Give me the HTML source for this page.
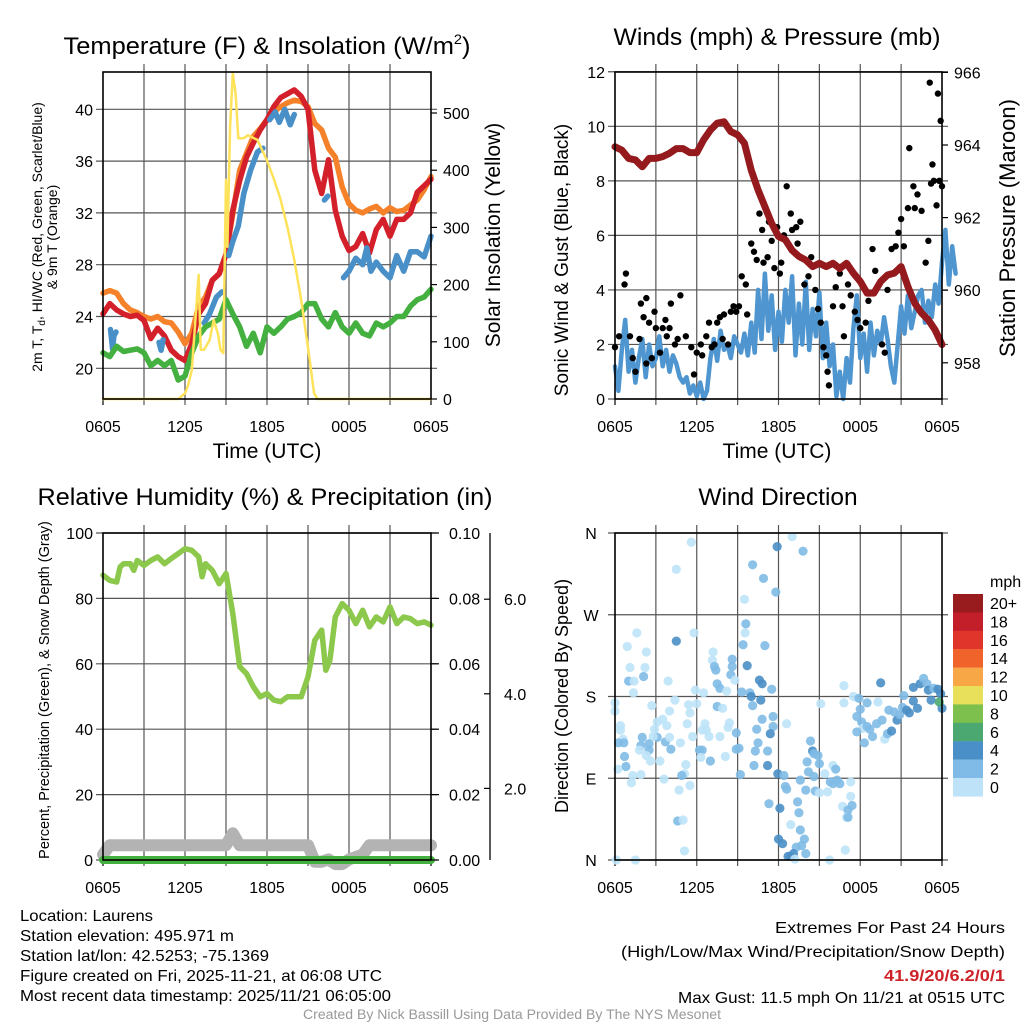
<!DOCTYPE html>
<html><head><meta charset="utf-8"><style>
html,body{margin:0;padding:0;background:#fff;}
svg{display:block;font-family:"Liberation Sans",Arial,sans-serif;}
</style></head><body>
<svg id="fig" width="1024" height="1024" viewBox="0 0 1024 1024" xmlns="http://www.w3.org/2000/svg">
<rect x="0" y="0" width="1024" height="1024" fill="#fff"/>
<!-- titles -->
<text x="267" y="54" font-size="24.5" text-anchor="middle" textLength="407" lengthAdjust="spacingAndGlyphs">Temperature (F) &amp; Insolation (W/m<tspan font-size="14" dy="-10">2</tspan><tspan dy="10">)</tspan></text>
<text x="777" y="45" font-size="24.5" text-anchor="middle" textLength="327" lengthAdjust="spacingAndGlyphs">Winds (mph) &amp; Pressure (mb)</text>
<text x="265" y="505" font-size="24.5" text-anchor="middle" textLength="455" lengthAdjust="spacingAndGlyphs">Relative Humidity (%) &amp; Precipitation (in)</text>
<text x="778" y="505" font-size="24.5" text-anchor="middle">Wind Direction</text>
<!-- axis titles -->
<text x="267" y="458" font-size="21" text-anchor="middle">Time (UTC)</text>
<text x="777" y="458" font-size="21" text-anchor="middle">Time (UTC)</text>
<text font-size="14" text-anchor="middle" transform="translate(42,237) rotate(-90)">2m T, T<tspan font-size="10" dy="3">d</tspan><tspan dy="-3">, HI/WC (Red, Green, Scarlet/Blue)</tspan></text>
<text font-size="14" text-anchor="middle" transform="translate(57,237) rotate(-90)">&amp; 9m T (Orange)</text>
<text font-size="21" text-anchor="middle" transform="translate(500,235) rotate(-90)">Solar Insolation (Yellow)</text>
<text font-size="19" text-anchor="middle" transform="translate(568,260) rotate(-90)">Sonic Wind &amp; Gust (Blue, Black)</text>
<text font-size="22" text-anchor="middle" transform="translate(1015,228) rotate(-90)">Station Pressure (Maroon)</text>
<text font-size="14.5" text-anchor="middle" transform="translate(49,690) rotate(-90)">Percent, Precipitation (Green), &amp; Snow Depth (Gray)</text>
<text font-size="18" text-anchor="middle" transform="translate(568,696) rotate(-90)">Direction (Colored By Speed)</text>
<!-- footer -->
<g font-size="16" lengthAdjust="spacingAndGlyphs">
<text x="20" y="921" textLength="133" lengthAdjust="spacingAndGlyphs">Location: Laurens</text>
<text x="20" y="941" textLength="214" lengthAdjust="spacingAndGlyphs">Station elevation: 495.971 m</text>
<text x="20" y="961" textLength="249" lengthAdjust="spacingAndGlyphs">Station lat/lon: 42.5253; -75.1369</text>
<text x="20" y="981" textLength="362" lengthAdjust="spacingAndGlyphs">Figure created on Fri, 2025-11-21, at 06:08 UTC</text>
<text x="20" y="1001" textLength="371" lengthAdjust="spacingAndGlyphs">Most recent data timestamp: 2025/11/21 06:05:00</text>
</g>
<g font-size="16" text-anchor="end">
<text x="1005" y="933" textLength="230" lengthAdjust="spacingAndGlyphs">Extremes For Past 24 Hours</text>
<text x="1005" y="957" textLength="384" lengthAdjust="spacingAndGlyphs">(High/Low/Max Wind/Precipitation/Snow Depth)</text>
<text x="1005" y="981" fill="#cc2228" font-weight="bold" textLength="121" lengthAdjust="spacingAndGlyphs">41.9/20/6.2/0/1</text>
<text x="1005" y="1003" textLength="327" lengthAdjust="spacingAndGlyphs">Max Gust: 11.5 mph On 11/21 at 0515 UTC</text>
</g>
<text x="512" y="1019" font-size="13.5" fill="#999" text-anchor="middle" textLength="418" lengthAdjust="spacingAndGlyphs">Created By Nick Bassill Using Data Provided By The NYS Mesonet</text>
<g id="plots"></g>
</svg>
<script>
// ---------- data ----------
const tempStepHours = 0.5;
const red2mT = [24.2,25.0,24.5,24.2,24.0,24.1,23.7,22.3,23.1,22.5,21.4,20.9,20.6,21.9,24.2,25.0,26.8,27.3,28.8,32.2,34.5,36.3,37.4,38.4,39.2,40.2,40.9,41.2,41.5,41.0,40.0,35.3,33.5,36.1,32.2,30.2,29.1,29.4,30.4,28.9,30.7,31.5,30.2,31.5,31.5,32.0,33.6,34.1,34.6];
const orange9mT = [25.8,26.0,25.8,25.0,24.5,24.3,24.0,23.8,24.0,23.6,23.5,22.8,21.9,22.7,24.8,25.5,26.8,27.3,28.8,31.9,35.3,36.6,37.9,38.5,39.2,39.8,40.2,40.5,40.7,40.6,40.2,38.9,38.4,37.0,36.3,34.0,32.7,32.2,32.0,32.3,32.5,32.0,32.4,32.1,32.2,32.6,33.0,33.8,34.8];
const greenTd = [21.2,20.9,21.7,21.3,21.4,21.5,21.2,20.2,20.6,20.2,20.6,19.1,19.4,21.2,22.5,23.2,23.5,23.8,25.3,24.2,23.2,21.7,22.7,21.2,23.2,22.7,23.2,23.8,24.0,24.3,25.0,25.0,23.8,23.2,24.3,23.2,22.7,23.5,22.7,22.5,23.5,23.2,23.5,24.0,24.0,24.8,25.3,25.5,26.1];
const blueHours = [0.55,0.7,0.8,0.95,null,4.1,4.25,4.4,null,7.4,7.8,8.3,8.7,null,9.2,9.5,9.9,10.3,10.8,11.3,11.7,null,12.2,12.6,12.9,13.3,13.7,14.0,null,16.2,16.45,null,17.6,18.0,18.5,19.0,19.3,19.6,20.0,20.5,21.0,21.5,22.0,22.5,23.0,23.5,24.0];
const blueHIWC = [23.0,21.5,22.5,22.8,null,22.0,21.4,22.2,null,23.5,24.2,25.5,25.9,null,28.7,29.8,31.0,33.5,35.3,36.7,37.0,null,39.2,39.8,39.0,40.0,38.8,39.6,null,33.0,33.3,null,27.0,27.5,28.5,28.0,29.3,27.5,28.2,27.5,27.0,28.7,27.5,29.0,29.0,28.6,30.2];
const solarHours = [0,5.5,6.0,6.2,6.5,6.9,7.0,7.15,7.4,7.8,8.1,8.4,8.6,8.8,9.0,9.1,9.3,9.5,9.7,9.9,10.3,10.6,11.3,12.0,12.5,13.0,13.5,14.0,14.5,15.0,15.45,15.7,24];
const solarValues = [0,0,10,22,50,185,217,86,86,103,138,115,86,80,383,266,476,569,534,456,456,461,453,417,385,348,300,243,173,90,10,0,0];

const windStepHours = 0.25;
const sonicWind = [1.2,0.3,1.8,2.9,1.0,1.8,0.6,1.5,2.2,0.8,2.0,1.2,1.5,2.3,1.2,1.8,1.0,1.6,1.3,0.8,0.6,0.8,0.2,0.5,0.1,0.6,0.0,0.3,1.5,2.2,1.4,2.5,1.8,2.0,1.5,2.3,2.0,1.7,2.4,1.6,2.8,1.7,4.0,2.2,4.6,2.5,3.8,1.8,3.2,2.1,4.0,2.8,4.5,1.6,3.5,2.0,4.3,1.8,3.3,2.3,3.9,1.5,2.8,1.2,2.0,0.1,1.0,0.0,1.5,0.6,2.6,3.8,1.5,2.4,1.0,2.8,1.6,2.5,2.0,3.0,2.2,1.2,0.6,2.0,3.4,2.4,3.8,2.6,3.2,3.8,4.0,2.8,3.6,3.0,4.2,3.5,5.0,6.2,4.2,5.6,4.6];
const gustHours = [0,0.3,0.7,0.8,1.1,1.3,1.5,1.8,1.9,2.1,2.3,2.3,2.5,2.7,2.9,3.0,3.3,3.5,3.7,3.8,4.0,4.1,4.4,4.6,4.8,5.2,5.6,5.8,6.0,6.3,6.4,6.7,6.9,7.1,7.3,7.5,7.7,7.9,8.0,8.3,8.5,8.7,8.9,9.1,9.3,9.6,9.7,10.0,10.2,10.4,10.6,10.8,10.9,11.2,11.3,11.5,11.7,11.9,12.1,12.2,12.4,12.6,12.9,13.0,13.3,13.4,13.6,13.9,14.2,14.4,14.7,14.9,15.1,15.3,15.5,15.6,15.7,16.0,16.2,16.5,16.7,16.8,17.1,17.3,17.6,17.8,18.0,18.4,18.6,18.9,19.1,19.6,19.8,20.0,20.3,20.6,20.8,21.0,21.2,21.5,21.6,21.9,22.0,22.2,22.5,22.8,23.0,23.1,23.2,23.3,23.4,23.6,23.7,23.8,23.9,24.0];
const gustValues = [1.9,2.3,4.2,4.6,2.3,1.5,1.0,2.2,3.5,3.0,3.7,1.3,2.8,1.5,3.2,2.6,1.7,2.6,2.9,2.3,2.6,3.5,2.0,2.2,3.8,2.3,1.9,0.9,1.7,2.0,1.6,2.3,2.8,1.9,2.0,2.8,3.0,2.2,3.1,2.0,3.2,3.4,3.2,3.4,4.5,4.2,3.1,5.7,5.4,5.1,6.8,6.2,5.0,5.2,6.5,5.8,4.8,6.3,4.6,5.0,6.0,7.8,6.8,6.2,6.3,5.7,6.5,4.2,4.5,5.2,4.0,3.3,2.8,1.9,1.6,1.0,0.5,3.4,4.1,4.6,3.4,2.3,4.2,3.8,3.2,2.9,2.6,2.8,3.6,5.5,4.7,2.0,1.7,4.0,5.5,5.6,6.1,6.6,5.6,7.0,9.2,7.8,7.0,7.5,6.9,5.0,5.8,11.6,7.9,8.6,8.0,7.1,11.2,8.0,10.2,7.8];
const pressureMb = [963.95,963.86,963.63,963.59,963.4,963.63,963.63,963.68,963.77,963.9,963.9,963.79,963.79,964.14,964.41,964.6,964.64,964.37,964.28,964.05,963.3,962.76,962.3,961.84,961.48,961.39,961.1,960.93,960.83,960.65,960.74,960.65,960.74,960.6,960.74,960.47,960.24,959.92,959.92,960.24,960.42,960.47,960.65,960.1,959.64,959.37,959.18,958.9,958.5];

const rhHours = [0,0.5,1,1.25,1.5,2,2.25,2.5,3,3.5,4,4.5,5,5.5,6,6.5,7,7.25,7.5,8,8.5,9,9.5,10,10.5,11,11.5,12,12.5,13,13.5,14,14.5,15,15.5,16,16.3,16.6,17,17.5,18,18.5,19,19.5,20,20.5,21,21.5,22,22.5,23,23.5,24];
const rhValues = [87.1,85.5,85.0,89.6,90.6,90.6,88.6,91.6,90.1,91.6,92.7,90.6,92.2,93.7,95.2,94.7,92.7,86.6,90.6,88.6,84.5,87.6,75.4,59.1,57.0,53.0,49.9,50.9,48.9,48.4,49.9,49.9,49.9,56.0,67.2,70.3,58.0,61.1,74.3,78.4,76.4,72.3,76.4,71.3,74.3,72.8,77.4,72.3,74.3,73.8,72.3,72.8,71.8];
const precipHours = [0,24];
const precipValues = [0,0];
const snowHours = [0,0.5,9,9.5,10,15,15.5,16,16.5,17,17.5,18,18.5,19,19.5,24];
const snowDepth = [0.6,0.8,0.8,1.05,0.8,0.8,0.45,0.45,0.5,0.4,0.4,0.5,0.55,0.6,0.8,0.8];

// wind direction: hour, degrees, speed (mph)
const dirHours = [13.0,11.9,13.8,5.6,4.5,10.1,10.9,11.8,9.5,9.6,9.55,9.4,11.0,4.5,5.8,1.6,0.9,2.3,1.1,2.2,2.1,1.0,1.4,1.35,3.9,7.2,7.15,7.3,7.4,8.6,8.6,8.5,8.8,9.7,10.6,10.8,11.5,7.5,7.7,8.2,5.9,6.5,9.3,9.9,10.0,10.7,10.1,0.0,0.0,2.7,4.4,5.4,6.0,5.5,4.0,7.5,7.9,8.4,8.3,7.7,6.6,6.7,6.9,6.4,5.3,5.7,3.5,3.1,3.8,2.9,3.1,2.8,0.4,0.4,0.6,0.25,0.65,2.0,1.9,2.5,2.5,1.8,2.3,2.6,0.7,0.8,0.2,1.3,1.2,1.9,3.3,3.6,3.7,4.1,4.0,4.8,5.2,5.1,4.9,5.5,4.7,4.6,5.0,5.1,1.5,0.1,6.2,6.4,7.0,6.3,8.1,8.9,9.1,9.2,8.9,10.2,10.3,10.5,11.2,11.2,10.4,10.8,11.6,11.6,11.4,12.6,11.95,12.4,12.5,12.6,11.3,12.1,12.9,13.6,13.9,13.7,13.3,13.1,12.9,12.7,13.2,14.0,12.0,12.3,13.6,14.0,14.7,15.0,15.6,13.4,13.5,14.1,14.2,14.6,14.35,14.5,14.6,14.9,15.0,15.4,16.0,16.2,16.3,16.5,16.0,15.8,17.3,17.3,16.7,17.1,17.4,17.0,17.1,16.9,15.75,16.8,16.8,17.5,17.9,18.0,18.5,17.75,18.1,18.2,18.5,18.7,19.2,18.9,18.3,17.75,19.6,19.8,20.0,20.3,20.1,20.5,20.7,20.9,21.1,21.4,21.6,21.9,22.2,21.2,21.9,22.4,22.65,22.9,23.0,23.4,23.7,23.9,24.0,23.2,23.8,19.5,15.1,19.3];
const dirDegrees = [356,345,340,350,320,325,310,295,287,260,250,237,236,241,250,250,235,229,212,212,202,197,197,184,197,229,220,213,209,221,213,204,198,214,198,194,188,194,189,186,187,184,185,184,180,176,170,173,164,170,176,171,172,162,164,169,167,151,146,136,150,143,136,143,150,136,155,152,148,144,135,136,148,143,133,129,129,135,126,128,121,121,115,109,114,103,100,93,85,94,109,89,130,122,135,129,105,95,93,82,77,43,44,10,0,0,121,121,109,113,114,122,123,94,140,104,120,129,120,104,144,155,158,147,139,150,95,93,81,78,62,57,39,33,23,16,14,7,4,4,1,7,23,18,88,77,76,74,75,64,52,108,97,92,131,120,117,115,106,95,104,100,88,84,84,86,86,70,59,55,60,47,47,11,0,192,173,180,178,166,173,158,152,145,147,144,150,136,129,141,154,133,139,142,165,163,154,160,168,165,162,175,167,181,190,194,200,194,187,189,188,183,167,176,174,195,172,174];
const dirSpeed = [1,5,3,1,1,3,3,3,1,3,1,3,3,4,1,1,1,1,1,1,3,3,1,1,1,1,1,3,3,3,3,3,1,5,5,5,3,3,3,1,1,1,3,3,5,5,3,1,1,1,1,1,1,1,1,3,1,1,1,1,1,1,1,1,1,1,1,1,1,1,3,1,1,1,1,3,3,3,3,3,3,1,1,1,3,3,1,1,1,1,1,1,3,3,1,1,1,1,3,1,1,3,1,1,1,1,3,3,3,1,1,3,3,3,3,3,3,3,3,5,3,3,3,3,5,1,5,3,3,3,3,5,1,3,3,3,3,5,5,5,1,3,5,5,3,3,3,1,1,3,3,3,3,3,3,5,3,3,3,1,1,3,3,3,3,3,1,1,1,3,3,1,3,1,1,1,1,1,3,3,3,3,3,1,3,3,3,3,3,3,3,1,3,5,3,3,5,3,3,5,5,5,5,3,5,5,3,3,5,3,5,5,5,5,7,5,1,1,1];

const colorbarLabels = ["20+","18","16","14","12","10","8","6","4","2","0"];
const colorbarColors = ["#981b1e","#c21f2a","#e0352b","#f0642b","#f8a746","#e8e05a","#7dc04d","#4aa870","#4a8fc7","#7fbbe6","#bee3f8"];
const timeTickLabels = ["0605","1205","1805","0005","0605"];
const tempTicks = [20,24,28,32,36,40];
const solarTicks = [0,100,200,300,400,500];
const windTicks = [0,2,4,6,8,10,12];
const pressTicks = [958,960,962,964,966];
const rhTicks = [0,20,40,60,80,100];
const precipTicks = ["0.00","0.02","0.04","0.06","0.08","0.10"];
const snowTicks = [2,4,6];
const dirTickLabels = ["N","E","S","W","N"];

// ---------- drawing ----------
const NS='http://www.w3.org/2000/svg';
const root=document.getElementById('plots');
function el(tag,attrs,parent){const e=document.createElementNS(NS,tag);for(const k in attrs)e.setAttribute(k,attrs[k]);(parent||root).appendChild(e);return e;}
function txt(s,attrs,parent){const e=el('text',attrs,parent);e.textContent=s;return e;}
const FS=16;

const P1={x0:103,x1:431,y0:72,y1:399}, P2={x0:615,x1:942,y0:72,y1:399},
      P3={x0:103,x1:431,y0:533,y1:860}, P4={x0:615,x1:942,y0:533,y1:860};
const xs=(p,h)=>p.x0+h/24*(p.x1-p.x0);
const yT=v=>368.3-(v-20)*12.95;
const yS=v=>399-v*0.572;
const yW=v=>399-v*27.27;
const yP=v=>72.4+(966-v)*36.3;
const yRH=v=>860-v*3.27;
const yPr=v=>860-v*3270;
const ySn=v=>883-v*47.3;
const yD=v=>860-v*0.9083;

function frame(p,name,hLines){
  const g=el('g',{});
  
  
  for(let k=1;k<8;k++){const x=xs(p,k*3);el('line',{x1:x,x2:x,y1:p.y0-8,y2:p.y1+6,stroke:'#555','stroke-width':1.2},g);}
  hLines.forEach(y=>el('line',{x1:p.x0-7,x2:p.x1+6,y1:y,y2:y,stroke:'#555','stroke-width':1.2},g));
  [0,24].forEach(h=>{const x=xs(p,h);el('line',{x1:x,x2:x,y1:p.y1,y2:p.y1+6,stroke:'#000','stroke-width':1.2},g);});
  timeTickLabels.forEach((s,i)=>{const t=txt(s,{x:xs(p,i*6),y:p.y1+33,'font-size':FS,'text-anchor':'middle'},g);
    });
  return g;
}
function border(p,name){const r=el('rect',{x:p.x0,y:p.y0,width:p.x1-p.x0,height:p.y1-p.y0,fill:'none',stroke:'#000','stroke-width':1.6});
  }
function linePath(p,hours,vals,yf){let d='',pen=false;for(let i=0;i<vals.length;i++){if(vals[i]===null||hours[i]===null){pen=false;continue;}
  d+=(pen?'L':'M')+xs(p,hours[i]).toFixed(1)+','+yf(vals[i]).toFixed(1);pen=true;}return d;}
function stepHours(n,step){const a=[];for(let i=0;i<n;i++)a.push(i*step);return a;}
function series(p,hours,vals,yf,color,w,name){const e=el('path',{d:linePath(p,hours,vals,yf),fill:'none',stroke:color,'stroke-width':w,'stroke-linejoin':'round','stroke-linecap':'round'});
  return e;}
function leftLabels(p,vals,yf,fmt,name){vals.forEach(v=>{const t=txt(fmt(v),{x:p.x0-10,y:yf(v)+6,'font-size':FS,'text-anchor':'end'});
  });}
function rightLabels(p,vals,yf,fmt,name,off){vals.forEach(v=>{const y=yf(v);el('line',{x1:p.x1,x2:p.x1+6,y1:y,y2:y,stroke:'#000','stroke-width':1.2});
  const t=txt(fmt(v),{x:p.x1+(off||10),y:y+6,'font-size':FS,'text-anchor':'start'});
  });}

// Panel 1
frame(P1,'temperature',tempTicks.map(yT));
const h1=stepHours(red2mT.length,tempStepHours);
series(P1,h1,orange9mT,yT,'#f5822a',5.5,'line-9m-temperature');
series(P1,h1,red2mT,yT,'#d4202a',5.5,'line-2m-temperature');
series(P1,blueHours,blueHIWC,yT,'#4a90c8',5.5,'line-heat-index-wind-chill');
series(P1,h1,greenTd,yT,'#44b040',5.5,'line-dewpoint');
series(P1,solarHours,solarValues,yS,'#fde25a',2.5,'line-solar-insolation');
border(P1,'temperature');
leftLabels(P1,tempTicks,yT,v=>String(v),'temp-y-tick-label');
rightLabels(P1,solarTicks,yS,v=>String(v),'solar-y-tick-label',12);

// Panel 2
frame(P2,'winds',windTicks.map(yW));
const h2=stepHours(sonicWind.length,windStepHours);
series(P2,h2,sonicWind,yW,'#4f96d0',4.5,'line-sonic-wind');
const gg=el('g',{});


gustHours.forEach((h,i)=>{const c=el('circle',{cx:xs(P2,h),cy:yW(gustValues[i]),r:3.2,fill:'#000'},gg);
  });
series(P2,stepHours(pressureMb.length,0.5),pressureMb,yP,'#951a1d',7,'line-station-pressure');
border(P2,'winds');
leftLabels(P2,windTicks,yW,v=>String(v),'wind-y-tick-label');
rightLabels(P2,pressTicks,yP,v=>String(v),'pressure-y-tick-label',12);

// Panel 3
frame(P3,'humidity',rhTicks.map(yRH));
series(P3,snowHours,snowDepth,ySn,'#b3b3b3',12,'line-snow-depth');
series(P3,precipHours,precipValues,yPr,'#44b040',8,'line-precipitation');
series(P3,rhHours,rhValues,yRH,'#8cc84b',5.5,'line-relative-humidity');
border(P3,'humidity');
leftLabels(P3,rhTicks,yRH,v=>String(v),'rh-y-tick-label');
precipTicks.forEach(s=>{const y=yPr(parseFloat(s));el('line',{x1:P3.x1,x2:P3.x1+8,y1:y,y2:y,stroke:'#000','stroke-width':1.2});
  const t=txt(s,{x:P3.x1+18,y:y+6,'font-size':FS});});
const sa=el('line',{x1:490,x2:490,y1:533,y2:860,stroke:'#000','stroke-width':1.3});

snowTicks.forEach(v=>{const y=ySn(v);el('line',{x1:484,x2:490,y1:y,y2:y,stroke:'#000','stroke-width':1.2});
  const t=txt(v.toFixed(1),{x:504,y:y+6,'font-size':FS});});

// Panel 4
frame(P4,'wind-direction',[0,90,180,270,360].map(yD));
const sc=['#bee3f8','#bee3f8','#7fbbe6','#7fbbe6','#4a8fc7','#4a8fc7','#4aa870','#4aa870'];
const dg=el('g',{});


dirHours.forEach((h,i)=>{const c=el('circle',{cx:xs(P4,h),cy:yD(dirDegrees[i]),r:4.6,fill:sc[Math.min(7,dirSpeed[i])],'fill-opacity':0.9},dg);
  });
border(P4,'wind-direction');
dirTickLabels.forEach((s,i)=>{const t=txt(s,{x:591,y:yD(i*90)+6,'font-size':FS,'text-anchor':'middle'});
  });

// colorbar
const cb=el('g',{});


txt('mph',{x:990,y:587,'font-size':FS},cb);
colorbarColors.forEach((c,i)=>{const y=594+i*18.4;el('rect',{x:953,y:y,width:30,height:18.6,fill:c},cb);
  const t=txt(colorbarLabels[i],{x:990,y:y+15,'font-size':FS},cb);
  });
</script>
</body></html>
